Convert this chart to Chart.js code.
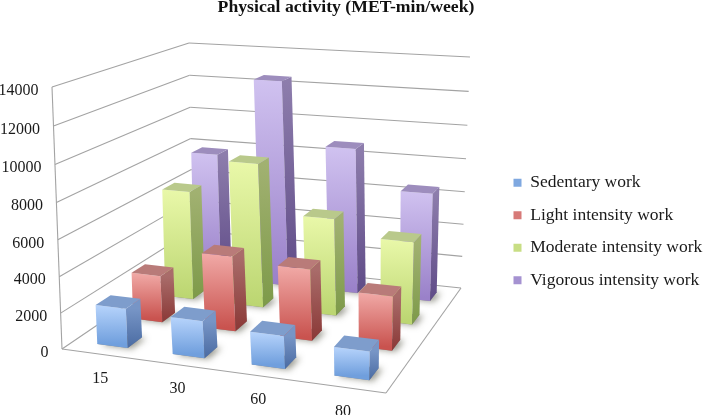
<!DOCTYPE html>
<html>
<head>
<meta charset="utf-8">
<style>
  html, body { margin: 0; padding: 0; background: #fff; }
  canvas { display: block; }
</style>
<script src="https://cdn.jsdelivr.net/npm/chart.js@4"></script>
</head>
<body>
<canvas id="chart" width="704" height="415"></canvas>
<script>
// Data
const categories = ['15', '30', '60', '80'];
const seriesNames = ['Sedentary work', 'Light intensity work', 'Moderate intensity work', 'Vigorous intensity work'];
const sedentary = [2200, 2050, 1800, 1550];
const light = [2700, 4300, 4050, 3050];
const moderate = [6500, 8500, 5700, 4800];
const vigorous = [7800, 12500, 8800, 6500];
const valueMax = 14000;
const valueStep = 2000;

// Colours: front top, front bottom, top face, side top, side bottom, legend
const palette = [
  ['#b7d4fc', '#709fdd', '#7e9dcc', '#7795c6', '#4a6ba2', '#7fa8e0'],
  ['#f1aaa7', '#c9534f', '#b97b79', '#a96c6a', '#8a3836', '#d77a78'],
  ['#e9f8a9', '#bcd672', '#b9c98b', '#a1b171', '#7d9a49', '#c8de84'],
  ['#d0c2f0', '#9a81c9', '#9d8dbd', '#8d7dac', '#5f4b87', '#a592d1']
];

// The box of the 3D view on the page
const floorQuad = [[62, 349], [386, 393], [461, 288], [193, 260]];
const ceilQuad = [[52, 87], [392, 118], [470, 57], [189, 43]];
const depthShare = 0.4;
const serif = '"Liberation Serif", "Times New Roman", serif';

// unit square -> quad
function quadMap(q) {
  const [p0, p1, p2, p3] = q;
  const dx1 = p1[0] - p2[0], dx2 = p3[0] - p2[0], sx = p0[0] - p1[0] + p2[0] - p3[0];
  const dy1 = p1[1] - p2[1], dy2 = p3[1] - p2[1], sy = p0[1] - p1[1] + p2[1] - p3[1];
  const det = dx1 * dy2 - dx2 * dy1;
  const g = (sx * dy2 - dx2 * sy) / det;
  const h = (dx1 * sy - sx * dy1) / det;
  const a = p1[0] - p0[0] + g * p1[0], b = p3[0] - p0[0] + h * p3[0];
  const d = p1[1] - p0[1] + g * p1[1], e = p3[1] - p0[1] + h * p3[1];
  return (u, v) => {
    const n = g * u + h * v + 1;
    return [(a * u + b * v + p0[0]) / n, (d * u + e * v + p0[1]) / n];
  };
}
const floorAt = quadMap(floorQuad);
const ceilAt = quadMap(ceilQuad);

function project(u, v, w) {
  const f = floorAt(u, v), c = ceilAt(u, v);
  return [f[0] + (c[0] - f[0]) * w, f[1] + (c[1] - f[1]) * w];
}

// Puts each tick label where the view wants it
function placeLabels(items, at) {
  items.forEach((item, i) => {
    item.options.translation = at(i);
    item.options.textBaseline = 'middle';
    item.textOffset = 0;
  });
  return items;
}

// Linear axis with the slight foreshortening of the 3D view
class PerspectiveScale extends Chart.LinearScale {
  getPixelForValue(value) {
    const t = (value - this.min) / (this.max - this.min);
    return this.getPixelForDecimal(t / (t + 1.05 * (1 - t)));
  }
  _computeLabelItems(area) {
    return placeLabels(super._computeLabelItems(area), i => {
      const y = this.getPixelForTick(i);
      const w = (this.bottom - y) / this.height;
      return [project(0, 0, w)[0] - 13.5, y + 1.5];
    });
  }
}
PerspectiveScale.id = 'perspective';
PerspectiveScale.defaults = Chart.LinearScale.defaults;

class FloorCategoryScale extends Chart.CategoryScale {
  _computeLabelItems(area) {
    return placeLabels(super._computeLabelItems(area), i => {
      const u = (this.getPixelForTick(i) - this.left) / this.width;
      const p = project(u, 0, 0);
      return [p[0] + 1, p[1] + 24.5];
    });
  }
}
FloorCategoryScale.id = 'floorCategory';
FloorCategoryScale.defaults = Chart.CategoryScale.defaults;

Chart.register(PerspectiveScale, FloorCategoryScale);

function poly(ctx, pts) {
  ctx.beginPath();
  pts.forEach((p, i) => (i ? ctx.lineTo(p[0], p[1]) : ctx.moveTo(p[0], p[1])));
  ctx.closePath();
}

function line(ctx, a, b) {
  ctx.beginPath();
  ctx.moveTo(a[0], a[1]);
  ctx.lineTo(b[0], b[1]);
  ctx.stroke();
}

// Box of one bar, read from the element the bar controller laid out
function barBox(chart, el, row) {
  const area = chart.chartArea;
  const u1 = (el.x - el.width / 2 - area.left) / area.width + 0.006;
  const u2 = (el.x + el.width / 2 - area.left) / area.width + 0.006;
  const v1 = (row + 0.5 - depthShare / 2) / categories.length;
  const v2 = (row + 0.5 + depthShare / 2) / categories.length;
  const w = (el.base - el.y) / area.height;
  return { u1, u2, v1, v2, w };
}

const view3d = {
  id: 'view3d',
  afterLayout(chart) {
    const legend = chart.legend;
    const h = legend.bottom - legend.top;
    legend.left = 498.5;
    legend.right = 704;
    legend.top = 159;
    legend.bottom = 159 + h;
  },
  // walls, floor and bar shadows
  beforeDatasetsDraw(chart) {
    const ctx = chart.ctx, area = chart.chartArea, y = chart.scales.y;
    ctx.save();
    ctx.strokeStyle = '#a3a3a3';
    ctx.lineWidth = 1.1;
    y.ticks.forEach((tick, i) => {
      const w = (area.bottom - y.getPixelForTick(i)) / area.height;
      line(ctx, project(0, 0, w), project(0, 1, w));
      line(ctx, project(0, 1, w), project(1, 1, w));
    });
    line(ctx, project(0, 0, 0), project(0, 0, 1));
    line(ctx, project(0, 0, 0), project(1, 0, 0));
    line(ctx, project(1, 0, 0), project(1, 1, 0));

    chart.getSortedVisibleDatasetMetas().forEach(meta => {
      meta.data.forEach(el => {
        const b = barBox(chart, el, meta.index);
        ctx.save();
        ctx.shadowColor = 'rgba(60,60,40,0.5)';
        ctx.shadowBlur = 6;
        ctx.shadowOffsetX = 4;
        ctx.shadowOffsetY = 1;
        ctx.fillStyle = '#888';
        poly(ctx, [project(b.u1, b.v1, 0), project(b.u2, b.v1, 0), project(b.u2, b.v2, 0), project(b.u1, b.v2, 0)]);
        ctx.fill();
        ctx.restore();
      });
    });
    ctx.restore();
  },
  // Each bar is drawn as three faces, from the back row to the front
  beforeDatasetDraw(chart, args) {
    const ctx = chart.ctx, colors = palette[args.index];
    args.meta.data.forEach(el => {
      const b = barBox(chart, el, args.index);
      const fb1 = project(b.u1, b.v1, 0), fb2 = project(b.u2, b.v1, 0);
      const ft1 = project(b.u1, b.v1, b.w), ft2 = project(b.u2, b.v1, b.w);
      const sb = project(b.u2, b.v2, 0), st = project(b.u2, b.v2, b.w);
      const bt = project(b.u1, b.v2, b.w);

      const front = ctx.createLinearGradient(0, ft1[1], 0, fb1[1]);
      front.addColorStop(0, colors[0]);
      front.addColorStop(1, colors[1]);
      ctx.fillStyle = front;
      poly(ctx, [fb1, fb2, ft2, ft1]);
      ctx.fill();

      const side = ctx.createLinearGradient(0, ft2[1], 0, fb2[1]);
      side.addColorStop(0, colors[3]);
      side.addColorStop(1, colors[4]);
      ctx.fillStyle = side;
      poly(ctx, [fb2, sb, st, ft2]);
      ctx.fill();

      ctx.fillStyle = colors[2];
      poly(ctx, [ft1, ft2, st, bt]);
      ctx.fill();
    });
    return false;
  }
};

const values = [sedentary, light, moderate, vigorous];

new Chart(document.getElementById('chart'), {
  type: 'bar',
  data: {
    labels: categories,
    datasets: seriesNames.map((name, i) => ({
      label: name,
      data: values[i],
      backgroundColor: palette[i][5],
      borderWidth: 0,
      grouped: false,
      categoryPercentage: 1,
      barPercentage: 0.41
    }))
  },
  options: {
    responsive: false,
    animation: false,
    layout: { padding: { left: 0, right: 12, top: 0, bottom: 0 } },
    scales: {
      x: {
        type: 'floorCategory',
        grid: { display: false },
        border: { display: false },
        ticks: { color: '#1a1a1a', font: { family: serif, size: 16 }, maxRotation: 0, autoSkip: false },
        afterFit(scale) { scale.height = 64; }
      },
      y: {
        type: 'perspective',
        min: 0,
        max: valueMax,
        grid: { display: false },
        border: { display: false },
        ticks: {
          stepSize: valueStep,
          color: '#1a1a1a',
          font: { family: serif, size: 16 },
          callback: value => String(value)
        },
        afterFit(scale) { scale.width = 52; }
      }
    },
    plugins: {
      title: {
        display: true,
        text: 'Physical activity (MET-min/week)',
        color: '#111',
        font: { family: serif, size: 17.7, weight: 'bold' },
        padding: { top: -3, bottom: 71 }
      },
      legend: {
        position: 'right',
        align: 'start',
        labels: { color: '#1a1a1a', font: { family: serif, size: 17.5 }, boxWidth: 8, boxHeight: 8, padding: 15 }
      },
      tooltip: { enabled: false }
    }
  },
  plugins: [view3d]
});
</script>
</body>
</html>
